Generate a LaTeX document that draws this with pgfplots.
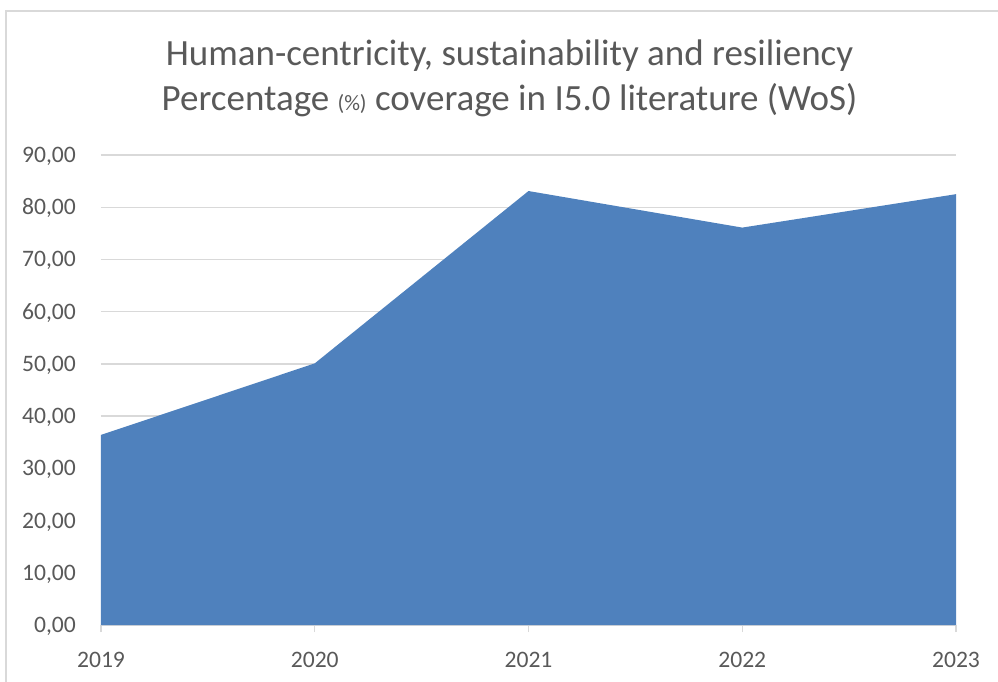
\documentclass[border=0pt]{standalone}
\usepackage{fontspec}
\setmainfont{Carlito}
\usepackage{pgfplots}
\pgfplotsset{compat=1.18}
\definecolor{xlblue}{HTML}{4F81BD}
\definecolor{xlgrid}{HTML}{D9D9D9}
\definecolor{xltext}{HTML}{595959}

\begin{document}
\begin{tikzpicture}
\useasboundingbox (-101bp,-57bp) rectangle (897bp,625bp);
% chart frame (only left and top edges visible in the crop)
\draw[xlgrid, line width=1.5bp] (-95bp,-57bp) -- (-95bp,614bp) -- (897bp,614bp);
\begin{axis}[
  at={(0,0)}, anchor=south west,
  scale only axis,
  width=855bp, height=470bp,
  xmin=2019, xmax=2023,
  ymin=0, ymax=90,
  xtick={2019,2020,2021,2022,2023},
  xticklabels={2019,2020,2021,2022,2023},
  ytick={0,10,...,90},
  axis x line*=bottom,
  axis y line*=left,
  x axis line style={draw=xlgrid, line width=1.3bp},
  y axis line style={draw=none},
  tick align=outside,
  xtick style={draw=xlgrid, line width=1.3bp},
  major tick length=7bp,
  ytick style={draw=none},
  ymajorgrids,
  grid style={xlgrid, line width=1.3bp},
  tick label style={font=\fontsize{23.6bp}{28bp}\selectfont, text=xltext, inner sep=0pt},
  xticklabel style={anchor=north, yshift=-20bp},
  yticklabel style={anchor=base east, xshift=-18bp, yshift=-7.5bp,
    /pgf/number format/.cd, fixed, fixed zerofill, precision=2, use comma, assume math mode=true},
  clip=false,
]
\addplot[fill=xlblue, draw=none] coordinates {
  (2019, 36.4)
  (2020, 50.1)
  (2021, 83.1)
  (2022, 76.1)
  (2023, 82.5)
} \closedcycle;
\node[anchor=base, text=xltext, font=\fontsize{37bp}{44bp}\selectfont]
  at (axis description cs:0.4778,1.1894) {Human-centricity, sustainability and resiliency};
\node[anchor=base, text=xltext, font=\fontsize{37bp}{44bp}\selectfont]
  at (axis description cs:0.4778,1.0957) {Percentage {\fontsize{22bp}{26bp}\selectfont(\%)} coverage in I5.0 literature (WoS)};
\end{axis}
\end{tikzpicture}
\end{document}
